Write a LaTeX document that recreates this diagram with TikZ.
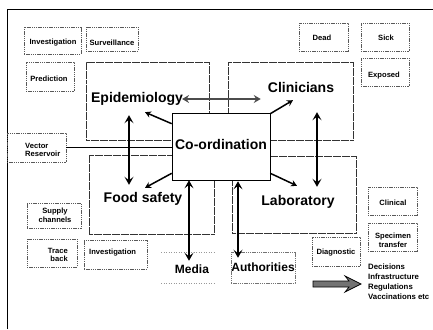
\documentclass[tikz,border=0pt]{standalone}
\usepackage{fontspec}
\setmainfont{Liberation Sans}
\usetikzlibrary{arrows.meta,calc}

\tikzset{
  bigbox/.style={draw=black!80, line width=0.6pt, dash pattern=on 4pt off 0.5pt, inner sep=0pt},
  smallbox/.style={draw=black!65, line width=0.5pt, dash pattern=on 1.4pt off 0.8pt, inner sep=0pt},
  coordbox/.style={draw=black, line width=0.6pt, fill=white, inner sep=0pt},
  biglabel/.style={font=\fontsize{14}{16}\selectfont\bfseries, inner sep=0pt, text height=10pt, text depth=3pt},
  midlabel/.style={font=\fontsize{12}{14}\selectfont\bfseries, inner sep=0pt, text height=8.6pt, text depth=2.5pt},
  smalllabel/.style={font=\fontsize{7.6}{8.6}\selectfont\bfseries, inner sep=0pt},
  dblarrow/.style={line width=2.6pt, {Stealth[length=8pt,width=9pt,inset=3.5pt]}-{Stealth[length=8pt,width=9pt,inset=3.5pt]}},
  hdblarrow/.style={line width=2.6pt, draw=black!70, {Stealth[length=7pt,width=8pt,inset=2.5pt,fill=black!80]}-{Stealth[length=7pt,width=8pt,inset=2.5pt,fill=black!80]}},
  outarrow/.style={line width=1.5pt, -{Stealth[length=6pt,width=6.5pt,inset=2pt]}},
}

\begin{document}
\begin{tikzpicture}[x=1pt, y=-1pt]
\useasboundingbox (0,0) rectangle (433,329);

% frame edges
\draw[line width=1pt] (7,329) -- (7,10) -- (433,10);

% the four main areas
\node[bigbox, minimum width=123pt, minimum height=78pt] (epi) at (147.5,101) {};
\node[bigbox, minimum width=125pt, minimum height=78pt] (clin) at (290.5,101) {};
\node[bigbox, minimum width=125pt, minimum height=79pt] (food) at (151.5,194.5) {};
\node[bigbox, minimum width=124pt, minimum height=77pt] (lab) at (294,194.5) {};

% central co-ordination box
\node[coordbox, minimum width=98pt, minimum height=67pt] (coord) at (221,146.5) {};
\node[biglabel] (coordl) at (221,146) {Co-ordination};

% area labels
\node[biglabel] (epil) at (137,99) {Epidemiology};
\node[biglabel] (clinl) at (301,89) {Clinicians};
\node[biglabel] (foodl) at (143,199) {Food safety};
\node[biglabel] (labl) at (298,202) {Laboratory};

% small dotted boxes
\node[smallbox, minimum width=57pt, minimum height=27pt] (inva) at (52.5,40.5) {};
\node[smalllabel] at (53,42.5) {Investigation};
\node[smallbox, minimum width=52pt, minimum height=24pt] (surv) at (112,39) {};
\node[smalllabel] at (112,42.5) {Surveillance};
\node[smallbox, minimum width=48pt, minimum height=29pt] (pred) at (50,76.5) {};
\node[smalllabel] at (49,79) {Prediction};

\node[smallbox, minimum width=49pt, minimum height=28pt] (dead) at (323.5,37) {};
\node[smalllabel] at (322,38) {Dead};
\node[smallbox, minimum width=48pt, minimum height=28pt] (sick) at (385,37) {};
\node[smalllabel] at (386,38) {Sick};
\node[smallbox, minimum width=48pt, minimum height=28pt] (expo) at (385,72) {};
\node[smalllabel] at (384,76) {Exposed};

\node[smallbox, minimum width=59pt, minimum height=29pt] (vec) at (36.5,147.5) {};
\node[smalllabel, align=left, anchor=west] at (25,150) {Vector\\Reservoir};

\node[smallbox, minimum width=54pt, minimum height=25pt] (supp) at (54,215.5) {};
\node[smalllabel, align=center] at (55,215) {Supply\\channels};
\node[smallbox, minimum width=50pt, minimum height=28pt] (trace) at (52,253) {};
\node[smalllabel, align=right, anchor=east] at (68,255) {Trace\\back};
\node[smallbox, minimum width=63pt, minimum height=29pt] (invb) at (115.5,254.5) {};
\node[smalllabel, anchor=west] at (89,253) {Investigation};

\node[smallbox, minimum width=48pt, minimum height=29pt] (diag) at (336,251.5) {};
\node[smalllabel] at (336,253) {Diagnostic};
\node[smallbox, minimum width=49pt, minimum height=28pt] (clinic) at (392.5,201) {};
\node[smalllabel] at (393,203) {Clinical};
\node[smallbox, minimum width=49pt, minimum height=28pt] (spec) at (392.5,237) {};
\node[smalllabel, align=center] at (393,240) {Specimen\\transfer};

% media and authorities
\node[smallbox, draw=black!55, minimum width=64pt, minimum height=31pt] (auth) at (263,267.5) {};
\node[midlabel] (authl) at (263,268) {Authorities};
\coordinate (medtl) at (161,252);
\coordinate (medtr) at (216,252);
\coordinate (medbl) at (161,283);
\coordinate (medbr) at (216,283);
\draw[black!40, line width=0.5pt, dash pattern=on 1pt off 1.5pt] (medtl) -- (medtr) (medbl) -- (medbr);
\node[midlabel] (medial) at (192,270) {Media};

% outcome list
\node[smalllabel, align=left, anchor=west, font=\fontsize{7.8}{10}\selectfont\bfseries] (dec) at (368,282) {Decisions\\Infrastructure\\Regulations\\Vaccinations etc};

% connectors
\draw[line width=1.8pt] (vec.east) -- (vec.east -| coord.west);

\draw[dblarrow] ([xshift=-8pt,yshift=-9.5pt]epil.south) -- ([xshift=-14pt,yshift=7.5pt]foodl.north);
\draw[dblarrow] ([xshift=16pt,yshift=-16.5pt]clinl.south) -- ([xshift=19pt,yshift=8.5pt]labl.north);
\draw[dblarrow] ([xshift=-32pt]coord.south) -- ([xshift=-3pt,yshift=3.5pt]medial.north);
\draw[dblarrow] ([xshift=17pt,yshift=-1pt]coord.south) -- ([xshift=-25pt,yshift=4.5pt]authl.north);
\draw[hdblarrow, shorten <=-1pt, shorten >=7pt] (epil.east) -- (epil.east -| clinl.west);

\draw[outarrow] ([yshift=-11pt]coord.north west) -- ([xshift=8pt,yshift=-6.5pt]epil.south);
\draw[outarrow] ([yshift=-1pt]coord.north east) -- ([xshift=-8pt,yshift=-4.5pt]clinl.south);
\draw[outarrow] ([yshift=7pt]coord.south west) -- ([xshift=2pt,yshift=4.5pt]foodl.north);
\draw[outarrow] ([yshift=7pt]coord.south east) -- ([xshift=-1pt,yshift=9.5pt]labl.north);

% broad arrow towards the outcome list
\draw[fill=black!55, line width=0.7pt] (313,281) -- (349,281) -- (345,276) -- (361,284) -- (345,292) -- (349,287) -- (313,287) -- cycle;
\end{tikzpicture}
\end{document}
